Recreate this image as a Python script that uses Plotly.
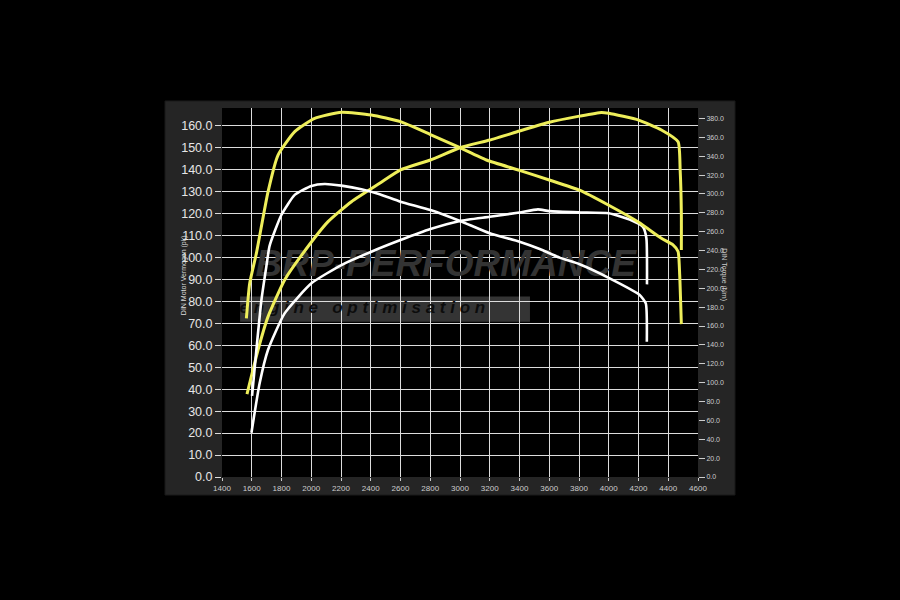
import plotly.graph_objects as go

# dyno run
tuned_pk_rpm = [1568, 1642, 1709, 1821, 1934, 2113, 2270, 2460, 2600, 2801, 3000, 3200, 3400,
                3600, 3803, 3951, 4000, 4201, 4354, 4466, 4480, 4488, 4488]
tuned_pk = [37.8, 57.9, 73.0, 89.8, 101.0, 116.4, 125.5, 133.9, 140.0, 144.5, 150.1, 153.6, 157.7,
            161.7, 164.5, 166.2, 165.8, 162.7, 158.2, 152.8, 140.0, 120.0, 103.5]

tuned_nm_rpm = [1564, 1586, 1631, 1709, 1776, 1889, 2023, 2203, 2404, 2600, 2801, 3000, 3178, 3400,
                3600, 3803, 4000, 4201, 4354, 4432, 4466, 4477, 4488]
tuned_nm = [168, 205, 237, 302, 341, 366, 380, 386.6, 383.7, 376.6, 363, 349, 336, 325,
            314.8, 304, 288, 270, 253, 246, 239, 214, 162]

stock_pk_rpm = [1598, 1653, 1709, 1821, 2001, 2203, 2404, 2600, 2801, 3000, 3200, 3400, 3524,
                3600, 3803, 4000, 4152, 4230, 4253, 4257]
stock_pk = [20.2, 42.7, 57.9, 74.6, 88.3, 96.6, 102.7, 108.0, 113.0, 116.7, 118.6, 120.6, 122.0,
            121.2, 120.6, 120.2, 117.0, 114.0, 108.8, 87.8]

stock_nm_rpm = [1602, 1631, 1665, 1698, 1720, 1799, 1889, 2001, 2090, 2203, 2337, 2460, 2600, 2801,
                3000, 3200, 3400, 3536, 3670, 3804, 4006, 4208, 4249, 4256]
stock_nm = [86, 134.6, 187.6, 223, 245, 277.7, 299, 308.5, 310.6, 308.8, 305, 299.7, 291.8, 283,
            271.4, 258.3, 249.4, 241.7, 232.5, 225.5, 210.6, 193, 184, 143.4]

X_RANGE = [1400, 4600]
PK_RANGE = [0, 168.2]
NM_RANGE = [0, 391.1]

YELLOW = "#eeee5a"
WHITE = "#ffffff"
FONT = "Liberation Sans"


def wm(fx, fy):
    # paper fraction -> data coords on x/y (for the watermark text trace)
    return X_RANGE[0] + fx * (X_RANGE[1] - X_RANGE[0]), PK_RANGE[0] + fy * (PK_RANGE[1] - PK_RANGE[0])


fig = go.Figure()

# watermark first so the curves sit on top of it
bx, by = wm(0.47, 0.57)
ex, ey = wm(0.295, 0.455)
fig.add_trace(go.Scatter(
    x=[bx], y=[by], mode="text", text=["BRP-PERFORMANCE"], hoverinfo="skip",
    textfont=dict(family=FONT, size=37, color="#333333", style="italic", weight="bold"),
    showlegend=False))
fig.add_trace(go.Scatter(
    x=[ex], y=[ey], mode="text", text=["e n g i n e   o p t i m i s a t i o n"], hoverinfo="skip",
    textfont=dict(family=FONT, size=17, color="#0c0c0c", style="italic", weight="bold"),
    showlegend=False))

curve = dict(mode="lines", line_shape="spline")
fig.add_trace(go.Scatter(x=tuned_pk_rpm, y=tuned_pk, line=dict(color=YELLOW, width=3, smoothing=0.5),
                         name="Vermogen getuned", **curve))
fig.add_trace(go.Scatter(x=tuned_nm_rpm, y=tuned_nm, line=dict(color=YELLOW, width=3, smoothing=0.5),
                         name="Koppel getuned", yaxis="y2", **curve))
fig.add_trace(go.Scatter(x=stock_pk_rpm, y=stock_pk, line=dict(color=WHITE, width=2.6, smoothing=0.5),
                         name="Vermogen standaard", **curve))
fig.add_trace(go.Scatter(x=stock_nm_rpm, y=stock_nm, line=dict(color=WHITE, width=2.6, smoothing=0.5),
                         name="Koppel standaard", yaxis="y2", **curve))

fig.update_layout(
    width=900, height=600,
    margin=dict(l=222, r=202, t=108, b=123),
    paper_bgcolor="#000000", plot_bgcolor="#000000",
    showlegend=False,
    font=dict(family=FONT, color="#dddddd"),
    xaxis=dict(range=X_RANGE, dtick=200, tick0=1400, showgrid=True, gridcolor="#dcdcdc", gridwidth=1,
               zeroline=False, ticks="outside", ticklen=3, tickcolor="#cccccc",
               tickfont=dict(size=8, color="#cccccc")),
    yaxis=dict(range=PK_RANGE, dtick=10, tick0=0, tickformat=".1f", showgrid=True, gridcolor="#dcdcdc",
               gridwidth=1, zeroline=False, ticks="outside", ticklen=6, tickcolor="#dddddd",
               tickfont=dict(size=12.5, color="#e6e6e6")),
    yaxis2=dict(range=NM_RANGE, dtick=20, tick0=0, tickformat=".1f", overlaying="y", side="right",
                showgrid=False, zeroline=False, ticks="outside", ticklen=6, tickcolor="#cccccc",
                tickfont=dict(size=7, color="#cccccc")),
    shapes=[
        # grey frame around the graph
        dict(type="rect", xref="paper", yref="paper", x0=-0.1197, x1=1.0777, y0=-0.0488, y1=1.019,
             fillcolor="#252525", line=dict(color="#1a1a1a", width=1), layer="below"),
        dict(type="rect", xref="paper", yref="paper", x0=0, x1=1, y0=0, y1=1,
             fillcolor="#000000", line=dict(width=0), layer="below"),
        # watermark band
        dict(type="rect", xref="paper", yref="paper", x0=0.038, x1=0.647, y0=0.421, y1=0.489,
             fillcolor="#343434", line=dict(width=0), layer="below"),
    ],
    annotations=[
        dict(text="DIN Motor Vermogen (pk)", xref="paper", yref="paper", x=-0.0924, y=0.547,
             textangle=-90, showarrow=False, font=dict(size=7, color="#dddddd")),
        dict(text="DIN Torque (Nm)", xref="paper", yref="paper", x=1.067, y=0.547,
             textangle=90, showarrow=False, font=dict(size=7, color="#cccccc")),
    ],
)

# no white page margin around the figure, no modebar
fig.write_html("out.html", config={"displayModeBar": False},
               post_script="document.body.style.margin='0';document.body.style.background='#000';")
